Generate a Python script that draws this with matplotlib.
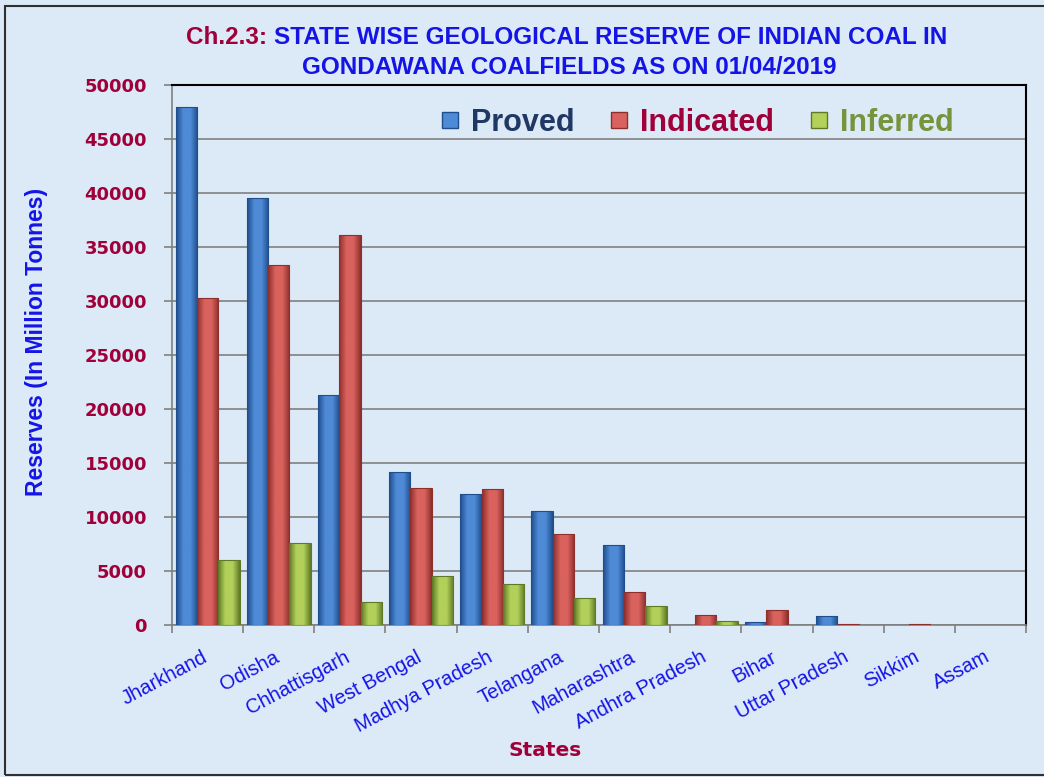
import numpy as np
import matplotlib
matplotlib.use("Agg")
import matplotlib.pyplot as plt
from matplotlib.colors import LinearSegmentedColormap
from matplotlib.patches import Rectangle
from matplotlib.lines import Line2D

# Dane (mln ton)
states = ["Jharkhand", "Odisha", "Chhattisgarh", "West Bengal", "Madhya Pradesh",
          "Telangana", "Maharashtra", "Andhra Pradesh", "Bihar", "Uttar Pradesh",
          "Sikkim", "Assam"]
proved = [47950, 39560, 21330, 14150, 12100, 10520, 7450, 0, 240, 860, 0, 0]
indicated = [30300, 33300, 36100, 12690, 12600, 8380, 3040, 890, 1350, 60, 60, 5]
inferred = [6020, 7630, 2130, 4530, 3790, 2510, 1740, 370, 0, 0, 40, 0]
yticks = [0, 5000, 10000, 15000, 20000, 25000, 30000, 35000, 40000, 45000, 50000]

bg = "#dce9f6"
crimson = "#a0003a"
blue_txt = "#1414e6"

series = [
    ("Proved", proved, "#1f4e8c", "#4f8ad6", "#1f3864"),
    ("Indicated", indicated, "#8e2f2c", "#d9625e", crimson),
    ("Inferred", inferred, "#5f7a26", "#b2d05a", "#77933c"),
]

fig = plt.figure(figsize=(10.44, 7.77), dpi=100, facecolor=bg)
ax = fig.add_axes([172 / 1044, 1 - 625 / 777, 854 / 1044, 540 / 777])
ax.set_facecolor(bg)

x = np.arange(len(states))
w = 0.3
grad = np.linspace(0, 1, 64).reshape(1, -1)

for i, (name, vals, dark, light, _) in enumerate(series):
    bars = ax.bar(x + (i - 1) * w, vals, width=w, facecolor="none",
                  edgecolor=dark, linewidth=0.8, zorder=4)
    cmap = LinearSegmentedColormap.from_list(name, [dark, light, light, dark])
    for p in bars:
        if p.get_height() <= 0:
            continue
        x0, y0 = p.get_x(), p.get_y()
        im = ax.imshow(grad, cmap=cmap, aspect="auto", zorder=3,
                       extent=[x0, x0 + p.get_width(), y0, y0 + p.get_height()])
        im.set_clip_path(p)

ax.set_xlim(-0.5, len(states) - 0.5)
ax.set_ylim(0, 50000)
ax.set_yticks(yticks)
ax.set_yticklabels([str(v) for v in yticks], fontsize=13, fontweight="bold",
                   color=crimson, family="DejaVu Sans")
ax.grid(axis="y", color="#808080", linewidth=1.2, zorder=1)
ax.set_axisbelow(True)

# etykiety lekko w lewo od środka grupy, jak w oryginale
ax.set_xticks(x - 0.08)
ax.set_xticklabels(states, rotation=28, ha="right", va="top", rotation_mode="anchor",
                   fontsize=14.5, color=blue_txt, family="Liberation Sans")
ax.set_xticks(np.arange(-0.5, len(states)), minor=True)
ax.tick_params(axis="x", which="major", length=0, pad=16)
ax.tick_params(axis="x", which="minor", length=6, color="#808080", width=1.2)
ax.tick_params(axis="y", length=6, color="#808080", width=1.2, pad=12)

for s in ["left", "bottom"]:
    ax.spines[s].set_color("#808080")
    ax.spines[s].set_linewidth(1.2)
for s in ["top", "right"]:
    ax.spines[s].set_color("black")
    ax.spines[s].set_linewidth(1.5)

fig.text(37 / 1044, 1 - 342 / 777, "Reserves (In Million Tonnes)", fontsize=16.5,
         fontweight="bold", color=blue_txt, family="Liberation Sans",
         rotation=90, ha="center", va="center")
fig.text(545 / 1044, 1 - 750 / 777, "States", fontsize=14.5, fontweight="bold",
         color=crimson, family="DejaVu Sans", ha="center", va="center")

# Legenda
handles = [Line2D([], [], marker="s", linestyle="none", markersize=12,
                  markerfacecolor=light, markeredgecolor=dark)
           for _, _, dark, light, _ in series]
leg = ax.legend(handles, [s[0] for s in series], loc="center",
                bbox_to_anchor=(0.614, 0.93), ncol=3, frameon=False,
                handlelength=0.7, handletextpad=0.35, columnspacing=1.1,
                prop={"family": "Liberation Sans", "weight": "bold", "size": 22})
for txt, s in zip(leg.get_texts(), series):
    txt.set_color(s[4])

# Tytuł
title_font = dict(fontsize=17.5, fontweight="bold", family="Liberation Sans")
t1 = fig.text(186 / 1044, 1 - 38 / 777, "Ch.2.3: ", color=crimson, va="center", ha="left", **title_font)
fig.canvas.draw()
bb = t1.get_window_extent()
fig.text(bb.x1 / 1044, 1 - 38 / 777, "STATE WISE GEOLOGICAL RESERVE OF INDIAN COAL IN",
         color=blue_txt, va="center", ha="left", **title_font)
fig.text(569 / 1044, 1 - 67 / 777, "GONDAWANA COALFIELDS AS ON 01/04/2019",
         color=blue_txt, va="center", ha="center", **title_font)

# Ramka
fig.patches.append(Rectangle((5 / 1044, 2 / 777), 1.1, 1 - 8 / 777,
                             transform=fig.transFigure, fill=False,
                             edgecolor="#303030", linewidth=1.5))

fig.savefig("out.png", dpi=100, facecolor=bg)
